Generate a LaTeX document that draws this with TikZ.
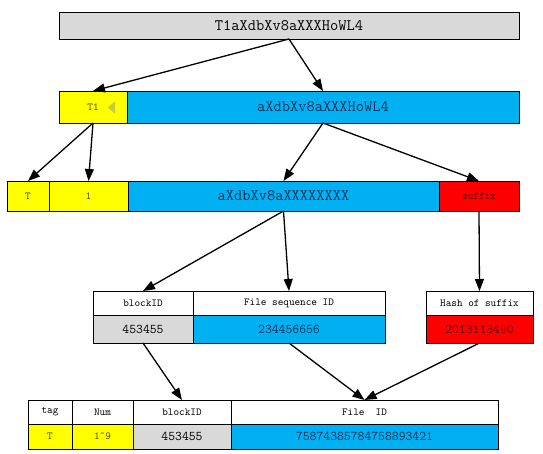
\documentclass[tikz,border=0pt]{standalone}
\usepackage{fontspec}
\usetikzlibrary{arrows.meta}
\definecolor{cgrey}{HTML}{D9D9D9}
\definecolor{cblue}{HTML}{00B0F0}
\definecolor{cyel}{HTML}{FFFF00}
\definecolor{cred}{HTML}{FF0000}
\definecolor{tblue}{HTML}{102E5A}
\definecolor{tred}{HTML}{5A0000}
\definecolor{tyel}{HTML}{4A4A00}
\definecolor{tri}{HTML}{C4CC3C}
\begin{document}
\begin{tikzpicture}[x=1pt,y=-1pt,
  cell/.style={draw=black, line width=0.9pt, inner sep=0pt, outer sep=0pt},
  big/.style={font=\ttfamily\fontsize{16}{16}\selectfont},
  mid/.style={font=\ttfamily\fontsize{13.3}{14}\selectfont},
  small/.style={font=\ttfamily\fontsize{10.7}{11}\selectfont},
  conn/.style={line width=1.3pt, -{Triangle[length=12pt,width=9pt]}}]
\useasboundingbox (0,0) rectangle (543,453);
% row 1
\node[cell, fill=cgrey, big, minimum width=460pt, minimum height=27pt] (top) at (289,25.5) {T1aXdbXv8aXXXHoWL4};
% row 2
\node[cell, fill=cyel, small, text=tyel, minimum width=68pt, minimum height=32pt] (t1) at (93,107) {T1};
\node[cell, fill=cblue, big, text=tblue, minimum width=392pt, minimum height=32pt] (b2) at (323,107) {aXdbXv8aXXXHoWL4};
\fill[tri] (107.5,107.5) -- (115,101.5) -- (115,113.5) -- cycle;
% row 3
\node[cell, fill=cyel, small, text=tyel, minimum width=42pt, minimum height=30pt] (tt) at (28,196) {T};
\node[cell, fill=cyel, small, text=tyel, minimum width=79pt, minimum height=30pt] (one) at (88.5,196) {1};
\node[cell, fill=cblue, big, text=tblue, minimum width=311pt, minimum height=30pt] (b3) at (283.5,196) {aXdbXv8aXXXXXXXX};
\node[cell, fill=cred, small, text=tred, minimum width=80pt, minimum height=30pt] (suf) at (479,196) {suffix};
% row 4
\node[cell, fill=white, small, minimum width=100pt, minimum height=24pt] (bh) at (143,303) {blockID};
\node[cell, fill=cgrey, mid, minimum width=100pt, minimum height=28pt] (bv) at (143,329) {453455};
\node[cell, fill=white, small, minimum width=192pt, minimum height=24pt] (sh) at (289,303) {File sequence ID};
\node[cell, fill=cblue, mid, text=tblue, minimum width=192pt, minimum height=28pt] (sv) at (289,329) {234456656};
\node[cell, fill=white, small, minimum width=107pt, minimum height=24pt] (hh) at (479.5,303) {Hash of suffix};
\node[cell, fill=cred, mid, text=tred, minimum width=107pt, minimum height=28pt] (hv) at (479.5,329) {2013113490};
% row 5
\node[cell, fill=white, small, minimum width=44pt, minimum height=24pt] (tagh) at (50,412) {tag};
\node[cell, fill=cyel, small, text=tyel, minimum width=44pt, minimum height=25pt] (tagv) at (50,436.5) {T};
\node[cell, fill=white, small, minimum width=61pt, minimum height=24pt] (numh) at (102.5,412) {Num};
\node[cell, fill=cyel, small, text=tyel, minimum width=61pt, minimum height=25pt] (numv) at (102.5,436.5) {1˜9};
\node[cell, fill=white, small, minimum width=98pt, minimum height=24pt] (blh) at (182,412) {blockID};
\node[cell, fill=cgrey, mid, minimum width=98pt, minimum height=25pt] (blv) at (182,436.5) {453455};
\node[cell, fill=white, small, minimum width=267pt, minimum height=24pt] (fh) at (364.5,412) {File\ \ ID};
\node[cell, fill=cblue, mid, text=tblue, minimum width=267pt, minimum height=25pt] (fv) at (364.5,436.5) {75874385784758893421};
% connectors
\draw[conn] (top.south) -- (t1.north);
\draw[conn] (top.south) -- (b2.north);
\draw[conn] (t1.south) -- (tt.north);
\draw[conn] (t1.south) -- (one.north);
\draw[conn] (b2.south) -- (b3.north);
\draw[conn] (b2.south) -- (suf.north);
\draw[conn] (b3.south) -- (bh.north);
\draw[conn] (b3.south) -- (sh.north);
\draw[conn] (suf.south) -- (hh.north);
\draw[conn] (bv.south) -- (blh.north);
\draw[conn] (sv.south) -- (fh.north);
\draw[conn] (hv.south) -- (fh.north);
\end{tikzpicture}
\end{document}
